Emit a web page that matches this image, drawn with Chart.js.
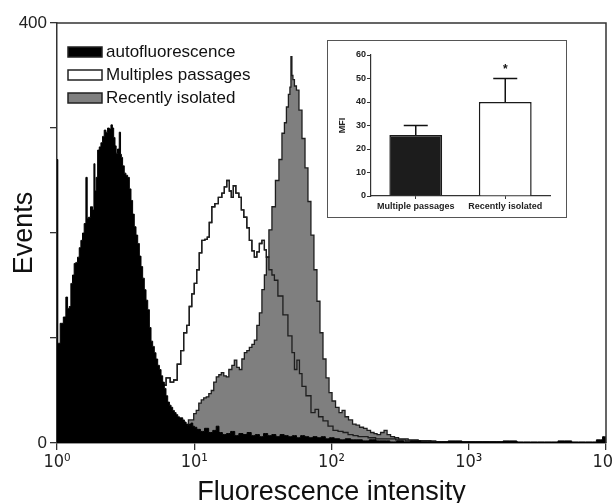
<!DOCTYPE html>
<html>
<head>
<meta charset="utf-8">
<script src="https://cdn.jsdelivr.net/npm/chart.js@4.4.1/dist/chart.umd.min.js"></script>
<style>
  html, body { margin: 0; padding: 0; background: #fff; }
  canvas { display: block; }
  #wrap { position: relative; width: 613px; height: 503px; }
  #inset { position: absolute; left: 327px; top: 40px; width: 240px; height: 178px; box-sizing: border-box; border: 1px solid #555; background: #fff; }
</style>
</head>
<body>
<div id="wrap">
  <canvas id="histChart" width="613" height="503"></canvas>
  <div id="inset"><canvas id="mfiChart" width="238" height="176"></canvas></div>
</div>
<script>
// histogram channels: position in decades (log10 of intensity) and event counts
const autoDec = [0.000, 0.012, 0.034, 0.058, 0.071, 0.083, 0.095, 0.107, 0.119, 0.131, 0.143, 0.156, 0.168, 0.180, 0.192, 0.204, 0.217, 0.223, 0.235, 0.253, 0.265, 0.273, 0.280, 0.290, 0.302, 0.314, 0.326, 0.338, 0.350, 0.362, 0.375, 0.387, 0.399, 0.408, 0.418, 0.427, 0.435, 0.447, 0.460, 0.466, 0.472, 0.484, 0.496, 0.508, 0.521, 0.533, 0.545, 0.557, 0.569, 0.582, 0.594, 0.606, 0.618, 0.630, 0.642, 0.655, 0.667, 0.679, 0.691, 0.703, 0.715, 0.727, 0.740, 0.752, 0.764, 0.776, 0.788, 0.800, 0.813, 0.825, 0.837, 0.849, 0.861, 0.874, 0.886, 0.898, 0.910, 0.922, 0.934, 0.947, 0.959, 0.971, 0.983, 0.995, 1.007, 1.03, 1.06, 1.09, 1.12, 1.15, 1.17, 1.19, 1.22, 1.25, 1.28, 1.31, 1.34, 1.37, 1.40, 1.43, 1.46, 1.49, 1.52, 1.55, 1.58, 1.61, 1.64, 1.67, 1.70, 1.73, 1.76, 1.79, 1.82, 1.85, 1.88, 1.91, 1.94, 1.97, 2.00, 2.04, 2.08, 2.12, 2.16, 2.20, 2.25, 2.30, 2.35, 2.40, 2.45, 2.50, 2.55, 2.60, 2.70, 2.80, 2.90, 3.00, 3.10, 3.20, 3.30, 3.40, 3.50, 3.60, 3.70, 3.80, 3.90, 3.96, 3.99, 4.00];
const autoCount = [270, 95, 114, 120, 139, 128, 130, 152, 160, 171, 172, 177, 186, 193, 200, 209, 253, 214, 215, 225, 222, 266, 240, 253, 279, 282, 286, 292, 298, 296, 300, 299, 303, 300, 291, 283, 276, 280, 296, 275, 272, 264, 257, 255, 253, 242, 231, 218, 206, 198, 190, 178, 168, 157, 146, 136, 127, 110, 97, 92, 86, 80, 74, 70, 64, 58, 52, 45, 39, 36, 34, 31, 29, 27, 25, 24, 24, 22, 20, 18, 17, 18, 19, 16, 15, 13, 11, 14, 10, 12, 16, 10, 8, 9, 11, 7, 9, 8, 10, 7, 8, 6, 9, 7, 8, 6, 8, 7, 6, 7, 5, 7, 6, 5, 6, 5, 6, 4, 5, 4, 3, 4, 3, 3, 2, 3, 2, 2, 1, 2, 1, 2, 1, 1, 2, 1, 1, 1, 2, 1, 1, 1, 2, 1, 1, 3, 6, 6];

const multiDec = [0.50, 0.60, 0.70, 0.78, 0.810, 0.839, 0.861, 0.891, 0.912, 0.934, 0.956, 0.971, 0.993, 1.007, 1.029, 1.044, 1.066, 1.088, 1.102, 1.117, 1.139, 1.161, 1.190, 1.212, 1.226, 1.248, 1.263, 1.277, 1.292, 1.314, 1.336, 1.350, 1.372, 1.394, 1.409, 1.431, 1.445, 1.467, 1.482, 1.504, 1.518, 1.533, 1.555, 1.577, 1.591, 1.628, 1.664, 1.701, 1.723, 1.737, 1.759, 1.774, 1.796, 1.832, 1.869, 1.891, 1.920, 1.956, 1.993, 2.029, 2.066, 2.102, 2.139, 2.175, 2.212, 2.248, 2.285, 2.358, 2.431, 2.504, 2.577, 2.650, 2.796, 2.942, 3.20, 3.50, 4.00];
const multiCount = [10, 22, 40, 55, 62, 58, 60, 75, 88, 105, 112, 130, 142, 152, 165, 181, 193, 194, 196, 210, 225, 228, 234, 238, 244, 250, 240, 234, 245, 238, 234, 222, 215, 205, 193, 183, 177, 182, 190, 193, 184, 177, 165, 160, 155, 140, 122, 102, 86, 70, 79, 66, 54, 45, 29, 32, 25, 21, 16, 12, 11, 10, 8, 7, 6, 6, 5, 4, 4, 3, 2, 2, 1, 1, 1, 0, 0];

const recentDec = [0.93, 0.985, 1.007, 1.022, 1.044, 1.058, 1.080, 1.095, 1.117, 1.131, 1.153, 1.168, 1.190, 1.204, 1.226, 1.241, 1.263, 1.285, 1.299, 1.321, 1.336, 1.358, 1.372, 1.394, 1.409, 1.431, 1.445, 1.467, 1.482, 1.504, 1.518, 1.533, 1.555, 1.577, 1.606, 1.628, 1.650, 1.664, 1.679, 1.693, 1.701, 1.708, 1.715, 1.723, 1.737, 1.752, 1.774, 1.796, 1.818, 1.839, 1.861, 1.883, 1.905, 1.927, 1.949, 1.971, 1.993, 2.015, 2.044, 2.066, 2.088, 2.109, 2.139, 2.168, 2.190, 2.219, 2.248, 2.270, 2.299, 2.321, 2.343, 2.372, 2.394, 2.416, 2.445, 2.474, 2.504, 2.540, 2.577, 2.613, 2.650, 2.723, 2.796, 2.869, 3.00, 4.00];
const recentCount = [10, 22, 28, 31, 38, 41, 43, 44, 47, 50, 58, 63, 65, 67, 64, 63, 70, 74, 79, 72, 70, 80, 86, 88, 91, 94, 98, 112, 124, 146, 160, 177, 203, 225, 250, 270, 295, 305, 320, 332, 339, 368, 350, 346, 340, 336, 317, 290, 262, 230, 198, 165, 135, 105, 80, 62, 48, 40, 34, 29, 31, 25, 22, 18, 17, 15, 14, 12, 10, 9, 8, 10, 12, 8, 6, 5, 4, 4, 3, 3, 2, 2, 1, 1, 0, 0];

const xDecades = [0, 1, 2, 3, 4];
const yTicksShown = [0, 400];

// inset: mean fluorescence intensity
const mfiGroups = ['Multiple passages', 'Recently isolated'];
const mfiMean = [26, 40];
const mfiErr = [4, 10];
const mfiMark = ['', '*'];

const SANS = "'Liberation Sans', Arial, sans-serif";
const NARROW = "'Liberation Sans Narrow', 'DejaVu Sans Condensed', sans-serif";
const SUP = ['\u2070', '\u00b9', '\u00b2', '\u00b3', '\u2074'];

Chart.defaults.font.family = SANS;
Chart.defaults.animation = false;

const toPoints = (dec, counts) => dec.map((d, i) => ({ x: 10 ** d, y: counts[i] }));

function histSet(label, dec, counts, extra) {
  return Object.assign({
    label,
    data: toPoints(dec, counts),
    pointRadius: 0,
    stepped: 'middle',
    borderColor: '#1e1e1e',
    borderWidth: 1.3
  }, extra);
}

const framePlugin = {
  id: 'frame',
  afterDraw(chart) {
    const { ctx, chartArea: a } = chart;
    ctx.save();
    ctx.strokeStyle = '#333';
    ctx.lineWidth = 1.5;
    ctx.beginPath();
    ctx.moveTo(a.left, a.top);
    ctx.lineTo(a.right, a.top);
    ctx.lineTo(a.right, a.bottom);
    ctx.stroke();
    ctx.restore();
  }
};

const legendPlugin = {
  id: 'insideLegend',
  afterDraw(chart) {
    const { ctx } = chart;
    const items = [0, 3, 2];
    ctx.save();
    ctx.font = '17px ' + SANS;
    ctx.textBaseline = 'middle';
    items.forEach((idx, row) => {
      const ds = chart.data.datasets[idx];
      const y = 47 + row * 23;
      ctx.fillStyle = ds.backgroundColor;
      ctx.fillRect(68, y, 34, 10);
      ctx.strokeStyle = '#222';
      ctx.lineWidth = 1.5;
      ctx.strokeRect(68, y, 34, 10);
      ctx.fillStyle = '#111';
      ctx.fillText(ds.label, 106, y + 5);
    });
    ctx.restore();
  }
};

new Chart(document.getElementById('histChart'), {
  type: 'line',
  data: {
    datasets: [
      histSet('autofluorescence', autoDec, autoCount, { backgroundColor: '#000', borderColor: '#000', borderWidth: 1, fill: 'origin' }),
      histSet('outline', multiDec, multiCount, { fill: false }),
      histSet('Recently isolated', recentDec, recentCount, { backgroundColor: '#7f7f7f', fill: 'origin' }),
      histSet('Multiples passages', multiDec, multiCount, { backgroundColor: '#fff', fill: 'origin' })
    ]
  },
  options: {
    responsive: false,
    layout: { padding: { top: 23, right: 7, left: 0, bottom: 0 }, autoPadding: false },
    plugins: { legend: { display: false }, tooltip: { enabled: false } },
    scales: {
      x: {
        type: 'logarithmic',
        min: 1,
        max: 10000,
        afterBuildTicks: (s) => { s.ticks = xDecades.map((d) => ({ value: 10 ** d, major: true })); },
        afterFit: (s) => { s.height = 60; s.paddingLeft = 0; s.paddingRight = 0; },
        ticks: {
          autoSkip: false,
          maxRotation: 0,
          padding: 2,
          color: '#222',
          font: { family: NARROW, size: 18 },
          callback: (v) => '10' + SUP[Math.round(Math.log10(v))]
        },
        grid: { drawOnChartArea: false, tickLength: 7, color: '#333', lineWidth: 1.3 },
        border: { color: '#333', width: 1.5 },
        title: { display: true, text: 'Fluorescence intensity', color: '#111', font: { size: 27, lineHeight: 0.8 }, padding: 0 }
      },
      y: {
        min: 0,
        max: 400,
        afterFit: (s) => { s.width = 57; },
        ticks: {
          stepSize: 100,
          padding: 3,
          color: '#222',
          font: { size: 17 },
          callback: (v) => (yTicksShown.includes(v) ? String(v) : '')
        },
        grid: { drawOnChartArea: false, tickLength: 7, color: '#333', lineWidth: 1.3 },
        border: { color: '#333', width: 1.5 },
        title: { display: true, text: 'Events', color: '#111', font: { size: 27, lineHeight: 0.8 }, padding: { top: 14, bottom: 0 } }
      }
    }
  },
  plugins: [framePlugin, legendPlugin]
});

const errorBarPlugin = {
  id: 'errorBars',
  afterDatasetsDraw(chart) {
    const { ctx } = chart;
    const yScale = chart.scales.y;
    const meta = chart.getDatasetMeta(0);
    ctx.save();
    ctx.strokeStyle = '#111';
    ctx.lineWidth = 1.5;
    meta.data.forEach((bar, i) => {
      const top = yScale.getPixelForValue(mfiMean[i] + mfiErr[i]);
      ctx.beginPath();
      ctx.moveTo(bar.x, bar.y);
      ctx.lineTo(bar.x, top);
      ctx.moveTo(bar.x - 12, top);
      ctx.lineTo(bar.x + 12, top);
      ctx.stroke();
      if (mfiMark[i]) {
        ctx.fillStyle = '#111';
        ctx.font = 'bold 12px ' + SANS;
        ctx.textAlign = 'center';
        ctx.textBaseline = 'middle';
        ctx.fillText(mfiMark[i], bar.x, top - 9);
      }
    });
    ctx.restore();
  }
};

const insetFont = { size: 9, weight: 'bold', lineHeight: 1 };

new Chart(document.getElementById('mfiChart'), {
  type: 'bar',
  data: {
    labels: mfiGroups,
    datasets: [{
      data: mfiMean,
      backgroundColor: ['#1c1c1c', '#ffffff'],
      borderColor: '#1a1a1a',
      borderWidth: 1.5,
      barPercentage: 0.59,
      categoryPercentage: 1
    }]
  },
  options: {
    responsive: false,
    layout: { padding: { top: 14, right: 16, left: 0, bottom: 0 }, autoPadding: false },
    plugins: { legend: { display: false }, tooltip: { enabled: false } },
    scales: {
      x: {
        afterFit: (s) => { s.height = 21; },
        ticks: { autoSkip: false, maxRotation: 0, padding: 3, color: '#222', font: insetFont },
        grid: { offset: false, drawOnChartArea: false, tickLength: 3, color: '#333' },
        border: { color: '#333', width: 1.2 }
      },
      y: {
        min: 0,
        max: 60,
        afterFit: (s) => { s.width = 43; },
        ticks: { stepSize: 10, padding: 1, color: '#222', font: insetFont },
        grid: { drawOnChartArea: false, tickLength: 4, color: '#333' },
        border: { color: '#333', width: 1.2 },
        title: { display: true, text: 'MFI', color: '#222', font: insetFont, padding: { top: 10, bottom: 0 } }
      }
    }
  },
  plugins: [errorBarPlugin]
});
</script>
</body>
</html>
